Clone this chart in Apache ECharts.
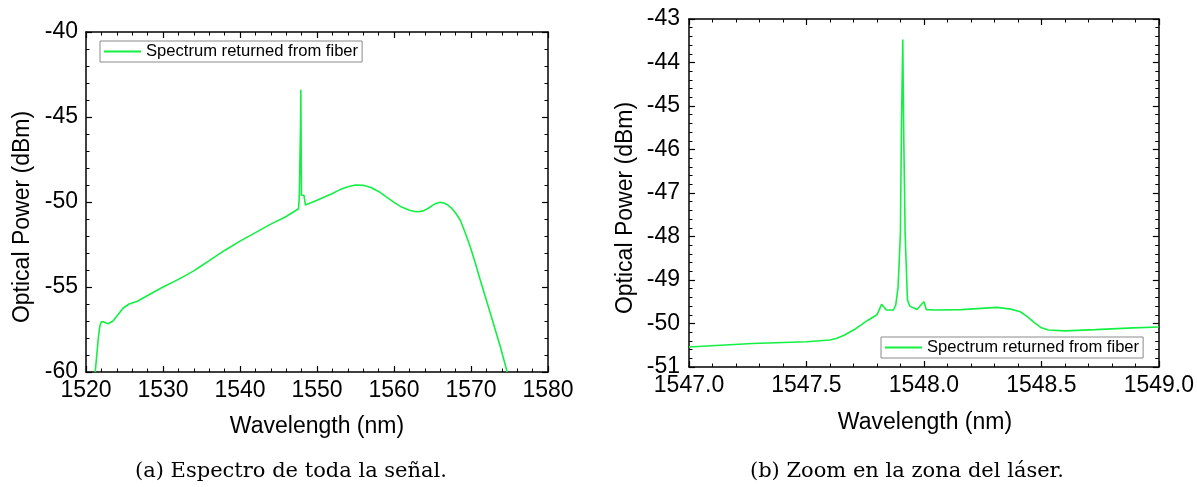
<!DOCTYPE html>
<html>
<head>
<meta charset="utf-8">
<script src="https://cdn.jsdelivr.net/npm/echarts@6/dist/echarts.min.js"></script>
<style>
  html, body { margin: 0; padding: 0; background: #fff; }
  #chart { width: 1197px; height: 487px; }
</style>
</head>
<body>
<div id="chart"></div>
<script>
// espectro completo (a)
const wlFull = [1521.2, 1521.4, 1521.6, 1521.8, 1522.0, 1522.3, 1522.6, 1522.9, 1523.5, 1524.2,
  1524.8, 1525.6, 1526.6, 1528, 1530, 1532, 1534, 1535, 1536, 1538, 1540, 1542, 1544, 1546, 1547.6,
  1547.7, 1547.82, 1547.86, 1547.9, 1547.94, 1547.98, 1548.3, 1548.4, 1548.5,
  1550, 1552, 1553, 1554, 1555, 1556, 1557, 1558, 1559, 1560, 1561, 1562, 1562.6, 1563.2, 1563.8,
  1564.4, 1565, 1565.5, 1566.0, 1566.5, 1567, 1567.5, 1568, 1568.6, 1569.2, 1569.9, 1570.5,
  1571.2, 1572.5, 1573.8, 1574.7]
const powFull = [-60, -59, -58, -57.3, -57.05, -57.05, -57.12, -57.16, -57.0, -56.6,
  -56.25, -56.0, -55.85, -55.5, -55.0, -54.55, -54.05, -53.75, -53.45, -52.85, -52.3, -51.8, -51.3, -50.85, -50.4,
  -49.7, -49.6, -45.5, -43.4, -46.5, -49.6, -49.6, -49.7, -50.18,
  -49.9, -49.5, -49.27, -49.1, -49.0, -49.02, -49.15, -49.38, -49.7, -50.02, -50.3, -50.48, -50.55, -50.57, -50.52,
  -50.38, -50.2, -50.07, -50.02, -50.06, -50.18, -50.38, -50.65, -51.06, -51.75, -52.63, -53.5,
  -54.59, -56.53, -58.5, -60]

// zoom en el laser (b)
const wlZoom = [1547.0, 1547.27, 1547.5, 1547.6, 1547.63, 1547.66, 1547.71, 1547.76, 1547.8, 1547.82, 1547.84,
  1547.87, 1547.88, 1547.89, 1547.9, 1547.904, 1547.91, 1547.914, 1547.92, 1547.93, 1547.94,
  1547.97, 1548.0, 1548.01, 1548.05, 1548.16, 1548.31, 1548.37, 1548.41, 1548.44, 1548.47, 1548.5, 1548.53,
  1548.6, 1548.73, 1548.89, 1549.0]
const powZoom = [-50.54, -50.46, -50.42, -50.38, -50.34, -50.27, -50.12, -49.93, -49.8, -49.56, -49.69,
  -49.69, -49.58, -49.16, -47.93, -45.63, -43.47, -45.63, -47.93, -49.46, -49.6,
  -49.68, -49.5, -49.68, -49.69, -49.68, -49.63, -49.67, -49.73, -49.84, -49.98, -50.1, -50.15,
  -50.17, -50.14, -50.1, -50.08]

const seriesName = 'Spectrum returned from fiber'
const green = '#14f043'
const sans = 'Liberation Sans, Arial, sans-serif'

function pairs (xs, ys) {
  return xs.map((x, i) => [x, ys[i]])
}

// eje con ticks hacia dentro, con o sin etiquetas
function axis (opt) {
  return Object.assign({
    type: 'value',
    scale: true,
    axisLine: { show: true, onZero: false, lineStyle: { color: '#000', width: 1.5 } },
    axisTick: { show: true, inside: true, length: 6, lineStyle: { color: '#000', width: 1.2 } },
    minorTick: { show: true, splitNumber: 5, length: 3.5, lineStyle: { color: '#000', width: 1 } },
    splitLine: { show: false },
    axisLabel: { show: false }
  }, opt)
}

function labels (margin, fmt) {
  return { show: true, color: '#000', fontFamily: sans, fontSize: 23, margin: margin, formatter: fmt || (v => String(v)) }
}

function legendFor (left, top) {
  return {
    data: [seriesName], left: left, top: top,
    icon: 'rect', itemWidth: 37, itemHeight: 2, itemGap: 5,
    backgroundColor: '#fff', borderColor: '#8a8a8a', borderWidth: 1, padding: [2, 4],
    textStyle: { color: '#000', fontFamily: sans, fontSize: 16.6 }
  }
}

function label (text, x, y, font, rot) {
  return { type: 'text', x: x, y: y, rotation: rot || 0,
    style: { text: text, fill: '#000', font: font, align: 'center', verticalAlign: 'middle' } }
}

const chart = echarts.init(document.getElementById('chart'))
chart.setOption({
  animation: false,
  backgroundColor: '#fff',
  grid: [
    { left: 86, top: 32, width: 462, height: 340 },
    { left: 689, top: 19, width: 472, height: 348 }
  ],
  xAxis: [
    axis({ gridIndex: 0, position: 'bottom', min: 1520, max: 1580, interval: 10, axisLabel: labels(7) }),
    axis({ gridIndex: 0, position: 'top', min: 1520, max: 1580, interval: 10 }),
    axis({ gridIndex: 1, position: 'bottom', min: 1547, max: 1549, interval: 0.5,
      axisLabel: labels(7, v => v.toFixed(1)) }),
    axis({ gridIndex: 1, position: 'top', min: 1547, max: 1549, interval: 0.5 })
  ],
  yAxis: [
    axis({ gridIndex: 0, position: 'left', min: -60, max: -40, interval: 5, axisLabel: labels(8) }),
    axis({ gridIndex: 0, position: 'right', min: -60, max: -40, interval: 5 }),
    axis({ gridIndex: 1, position: 'left', min: -51, max: -43, interval: 1, axisLabel: labels(9) }),
    axis({ gridIndex: 1, position: 'right', min: -51, max: -43, interval: 1 })
  ],
  legend: [legendFor(100, 41), legendFor(881, 337)],
  series: [
    {
      name: seriesName, type: 'line', xAxisIndex: 0, yAxisIndex: 0,
      data: pairs(wlFull, powFull), showSymbol: false, clip: true,
      lineStyle: { color: green, width: 1.6 }, itemStyle: { color: green }
    },
    {
      name: seriesName, type: 'line', xAxisIndex: 2, yAxisIndex: 2,
      data: pairs(wlZoom, powZoom), showSymbol: false, clip: true,
      lineStyle: { color: green, width: 1.6 }, itemStyle: { color: green }
    }
  ],
  // titulos de los ejes y pies de figura
  graphic: [
    label('Wavelength (nm)', 317, 427, '23px ' + sans),
    label('Optical Power (dBm)', 23, 217, '23px ' + sans, Math.PI / 2),
    label('Wavelength (nm)', 925, 423, '23px ' + sans),
    label('Optical Power (dBm)', 626, 208, '23px ' + sans, Math.PI / 2),
    label('(a) Espectro de toda la señal.', 291, 472, '21px DejaVu Serif, serif'),
    label('(b) Zoom en la zona del láser.', 907, 472, '21px DejaVu Serif, serif')
  ]
})
</script>
</body>
</html>
